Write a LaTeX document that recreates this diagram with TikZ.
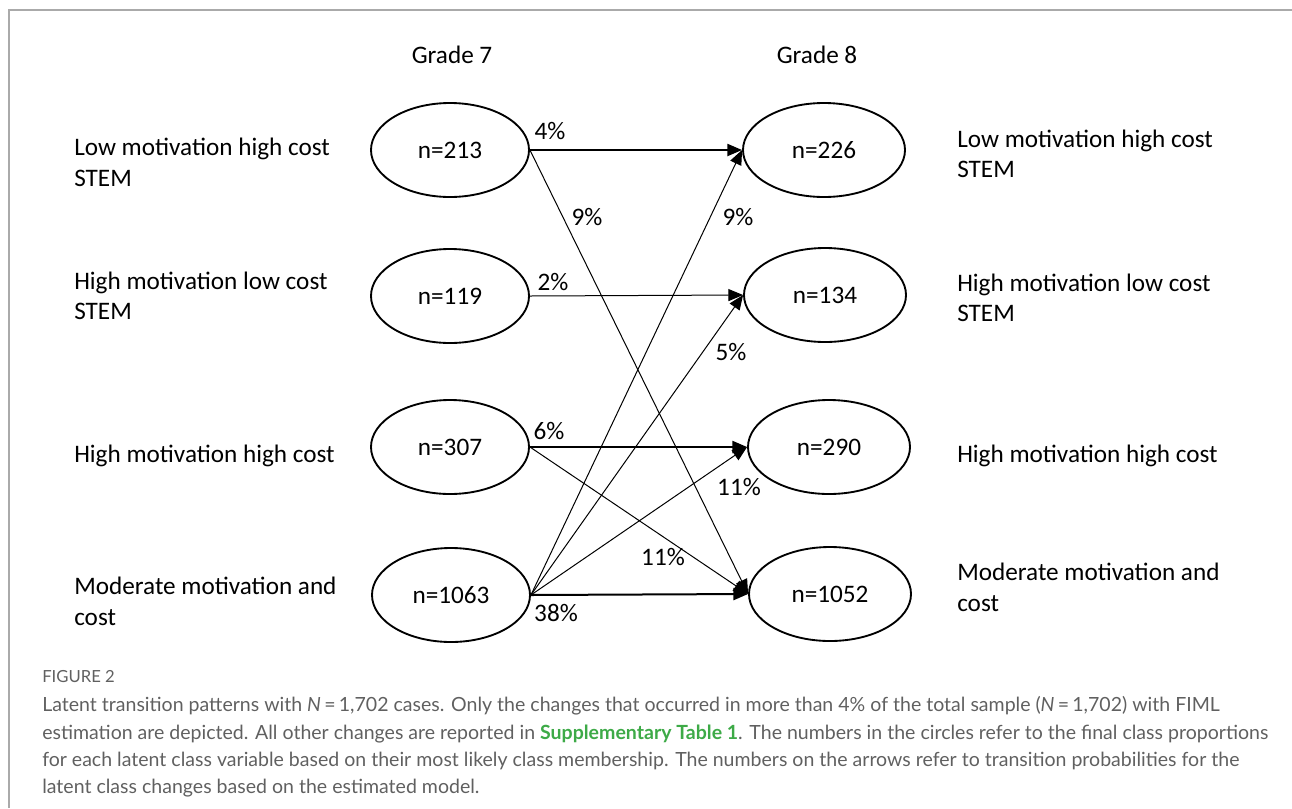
\documentclass[tikz,border=0pt]{standalone}
\usepackage{fontspec}
\setmainfont{Carlito}
\newfontfamily\capfont{Lato}
\usetikzlibrary{shapes.geometric,arrows.meta}
\definecolor{capgray}{HTML}{606060}
\definecolor{framegray}{HTML}{AAAAAA}
\definecolor{suppgreen}{HTML}{3DAA47}
\begin{document}
\begin{tikzpicture}[x=0.75pt,y=-0.75pt,
  bigfont/.style={font=\fontsize{18.9}{22}\selectfont},
  lcls/.style={draw,ellipse,line width=1.4pt,inner sep=0pt,minimum width=118.5pt,minimum height=70.5pt,bigfont},
  rcls/.style={lcls,minimum width=121.5pt},
  lbl/.style={anchor=base west,inner sep=0pt,bigfont},
  pct/.style={inner sep=0pt,bigfont},
  boldarr/.style={line width=1.5pt,-{Triangle[length=11pt,width=9pt]}},
  finearr/.style={line width=0.75pt,-{Triangle[length=11pt,width=9pt]}},
  captext/.style={anchor=base west,inner sep=0pt,text=capgray,font=\capfont\fontsize{14.65}{17}\selectfont},
]
\path[use as bounding box] (0,0) rectangle (1292,808);
\draw[framegray,line width=1.5pt] (9,808) -- (9,10) -- (1292,10);

% headers
\node[pct] (g7) at (452,55) {Grade 7};
\node[pct] (g8) at (817,55) {Grade 8};

% class ellipses
\node[lcls] (a1) at (450,150) {n=213};
\node[lcls] (a2) at (450,296) {n=119};
\node[lcls] (a3) at (450,447) {n=307};
\node[lcls] (a4) at (451,595) {n=1063};
\node[rcls] (b1) at (824,150) {n=226};
\node[rcls] (b2) at (825,295) {n=134};
\node[rcls] (b3) at (829,447) {n=290};
\node[rcls] (b4) at (830,594) {n=1052};

% left labels
\node[lbl] (l1a) at (74,155) {Low motivation high cost};
\node[lbl] (l1b) at (74,186) {STEM};
\node[lbl] (l2a) at (74,289) {High motivation low cost};
\node[lbl] (l2b) at (74,319) {STEM};
\node[lbl] (l3a) at (74,462) {High motivation high cost};
\node[lbl] (l4a) at (74,594) {Moderate motivation and};
\node[lbl] (l4b) at (74,625) {cost};
% right labels
\node[lbl] (r1a) at (957,147) {Low motivation high cost};
\node[lbl] (r1b) at (957,177) {STEM};
\node[lbl] (r2a) at (957,291) {High motivation low cost};
\node[lbl] (r2b) at (957,321) {STEM};
\node[lbl] (r3a) at (957,462) {High motivation high cost};
\node[lbl] (r4a) at (957,580) {Moderate motivation and};
\node[lbl] (r4b) at (957,611) {cost};

% transitions
\draw[boldarr] (a1.east) -- (b1.west);
\draw[finearr] (a2.east) -- (b2.west);
\draw[boldarr] (a3.east) -- (b3.west);
\draw[boldarr] (a4.east) -- (b4.west);
\draw[finearr] (a1.east) -- (b4.west);
\draw[finearr] (a3.east) -- (b4.west);
\draw[finearr] (a4.east) -- (b1.west);
\draw[finearr] (a4.east) -- (b2.west);
\draw[finearr] (a4.east) -- (b3.west);

% percentages
\node[pct] (p1) at (550,131) {4\%};
\node[pct] (p2) at (587,217) {9\%};
\node[pct] (p3) at (553,282) {2\%};
\node[pct] (p4) at (738,217) {9\%};
\node[pct] (p5) at (731,352) {5\%};
\node[pct] (p6) at (549,431) {6\%};
\node[pct] (p7) at (739,487) {11\%};
\node[pct] (p8) at (663,557) {11\%};
\node[pct] (p9) at (556,613) {38\%};

% caption
\node[captext,font=\capfont\fontsize{12.5}{14}\selectfont] (fig) at (42,682) {FIGURE 2};
\node[captext] (c1) at (42,711) {Latent transition patterns with {\itshape N}\,=\,1,702 cases. Only the changes that occurred in more than 4\% of the total sample ({\itshape N}\,=\,1,702) with FIML};
\node[captext] (c2) at (42,739) {estimation are depicted. All other changes are reported in {\bfseries\color{suppgreen}Supplementary Table 1}. The numbers in the circles refer to the final class proportions};
\node[captext] (c3) at (42,766) {for each latent class variable based on their most likely class membership. The numbers on the arrows refer to transition probabilities for the};
\node[captext] (c4) at (42,793) {latent class changes based on the estimated model.};
\end{tikzpicture}
\end{document}
